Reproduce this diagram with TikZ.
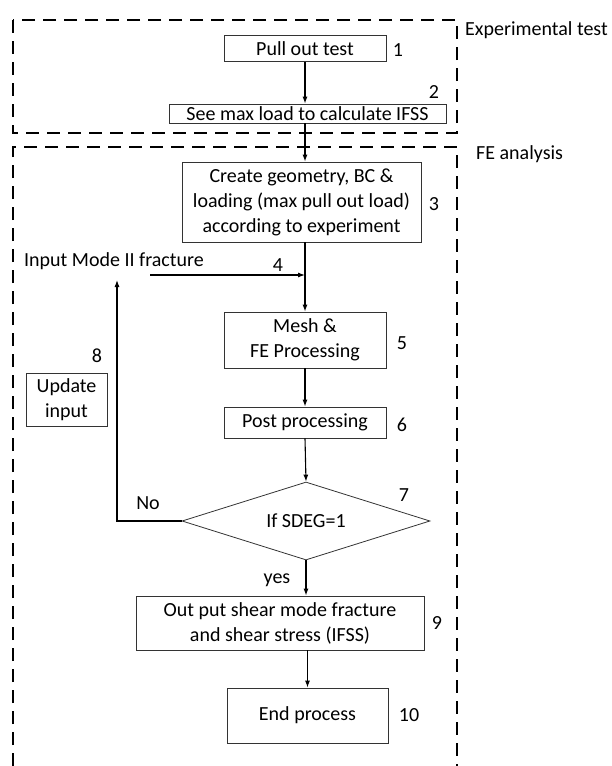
\documentclass[tikz,border=0pt]{standalone}
\usepackage{fontspec}
\setmainfont{Carlito}
\usetikzlibrary{shapes.geometric,arrows.meta}
\begin{document}
\begin{tikzpicture}[x=1pt,y=-1pt,
  every node/.style={font=\fontsize{20}{25}\selectfont},
  box/.style={draw=black!80,line width=0.8pt,rectangle,inner sep=0pt,align=center},
  decision/.style={draw=black!80,line width=0.8pt,diamond,aspect=3.18,inner sep=0pt},
  lbl/.style={inner sep=0pt},
  arr/.style={line width=1.1pt,-{Latex[length=7pt,width=5pt]}},
  plain/.style={line width=1.1pt},
  dashbox/.style={line width=2.6pt,dash pattern=on 13pt off 8pt}]
\useasboundingbox (0,0) rectangle (612,766);
% frames
\draw[dashbox] (13,20) rectangle (457,133);
\draw[dashbox] (13,766) -- (13,147) -- (457,147) -- (457,766);
\node[lbl,anchor=west] (exp) at (465,30) {Experimental test};
\node[lbl,anchor=west] (fea) at (476,154) {FE analysis};
% boxes
\node[box,minimum width=162pt,minimum height=26pt] (n1) at (305,48.7) {Pull out test};
\node[box,minimum width=277pt,minimum height=19pt] (n2) at (307.5,113.5) {See max load to calculate IFSS};
\node[box,minimum width=239pt,minimum height=80pt] (n3) at (301.5,202) {Create geometry, BC \&\\loading (max pull out load)\\according to experiment};
\node[box,minimum width=162pt,minimum height=56pt] (n5) at (305,340) {Mesh \&\\FE Processing};
\node[box,minimum width=162pt,minimum height=31pt] (n6) at (305,422.5) {Post processing};
\node[decision,minimum width=248pt,minimum height=78pt] (n7) at (306,521) {If SDEG=1};
\node[box,minimum width=288pt,minimum height=54pt] (n9) at (280,623) {Out put shear mode fracture\\and shear stress (IFSS)};
\node[box,minimum width=161pt,minimum height=55pt] (n10) at (307.5,715.5) {End process};
\node[box,minimum width=81pt,minimum height=53pt] (n8) at (66.5,399.5) {Update\\input};
\node[lbl,anchor=west] (inp) at (24,261) {Input Mode II fracture};
% numbers
\node[lbl] (l1) at (398,50) {1};
\node[lbl] (l2) at (434,92) {2};
\node[lbl] (l3) at (434,204) {3};
\node[lbl] (l4) at (278,265) {4};
\node[lbl] (l5) at (402,343) {5};
\node[lbl] (l6) at (402,425) {6};
\node[lbl] (l7) at (404,495) {7};
\node[lbl] (l8) at (97,356) {8};
\node[lbl] (l9) at (437,623) {9};
\node[lbl] (l10) at (409,715) {10};
\node[lbl] (no) at (148,503) {No};
\node[lbl] (yes) at (277,580) {yes};
% connectors
\coordinate (in4) at (150,275);
\coordinate (up) at (117,280);
\draw[arr] (n1.south) -- (n1.south |- n2.north);
\draw[arr] (n1.south |- n2.south) -- (n1.south |- n3.north);
\draw[arr] (n3.south -| n5.north) -- (n5.north);
\draw[arr] (in4) -- (in4 -| n5.north);
\draw[arr] (n5.south) -- (n6.north);
\draw[arr] (n6.south) -- (n7.north);
\draw[arr] (n7.south) -- (n7.south |- n9.north);
\draw[arr] (n10.north |- n9.south) -- (n10.north);
\draw[arr] (n7.west) -- (n7.west -| up) -- (up);
\end{tikzpicture}
\end{document}
